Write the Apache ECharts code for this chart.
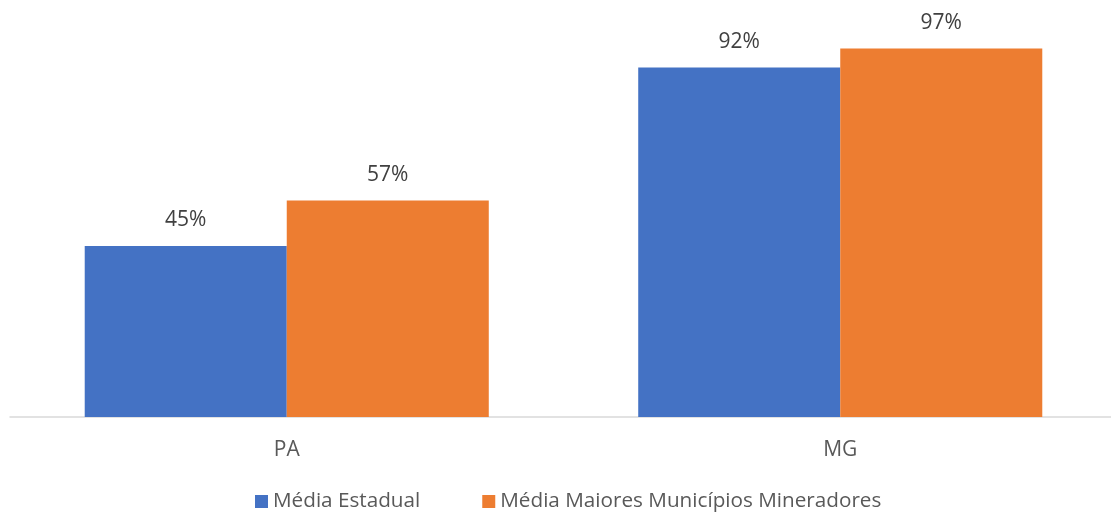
<!DOCTYPE html>
<html><head><meta charset="utf-8">
<script src="https://cdn.jsdelivr.net/npm/echarts@6/dist/echarts.min.js"></script>
<style>html,body{margin:0;padding:0;background:#fff;overflow:hidden}#c{width:1120px;height:514px}</style>
</head><body><div id="c"></div>
<script>
const categories = ['PA', 'MG'];
const mediaEstadual = [45, 92];
const mediaMaiores = [57, 97];
const seriesNames = ['Média Estadual', 'Média Maiores Municípios Mineradores'];

const chart = echarts.init(document.getElementById('c'));
const font = '"Open Sans", sans-serif';
const lbl = {show: true, position: 'top', distance: 15, color: '#404040', fontSize: 21, fontFamily: font, formatter: p => p.value + '%'};
chart.setOption({
  animation: false,
  grid: {left: 10, top: 37, width: 1107, bottom: 97, containLabel: false},
  legend: {
    bottom: 2, left: 255, padding: 0, itemWidth: 13, itemHeight: 13, itemGap: 62, icon: 'rect',
    textStyle: {color: '#595959', fontSize: 20.7, fontFamily: font},
    data: seriesNames
  },
  xAxis: {
    type: 'category', data: categories,
    axisLine: {lineStyle: {color: '#d9d9d9', width: 1.5}},
    axisTick: {show: false},
    axisLabel: {color: '#595959', fontSize: 21, fontFamily: font, margin: 23}
  },
  yAxis: {type: 'value', min: 0, max: 100, show: false, splitLine: {show: false}},
  series: [
    {name: seriesNames[0], type: 'bar', data: mediaEstadual, itemStyle: {color: '#4472C4'}, barGap: '0%', barCategoryGap: '27%', label: lbl},
    {name: seriesNames[1], type: 'bar', data: mediaMaiores, itemStyle: {color: '#ED7D31'}, label: lbl}
  ]
});
</script></body></html>
